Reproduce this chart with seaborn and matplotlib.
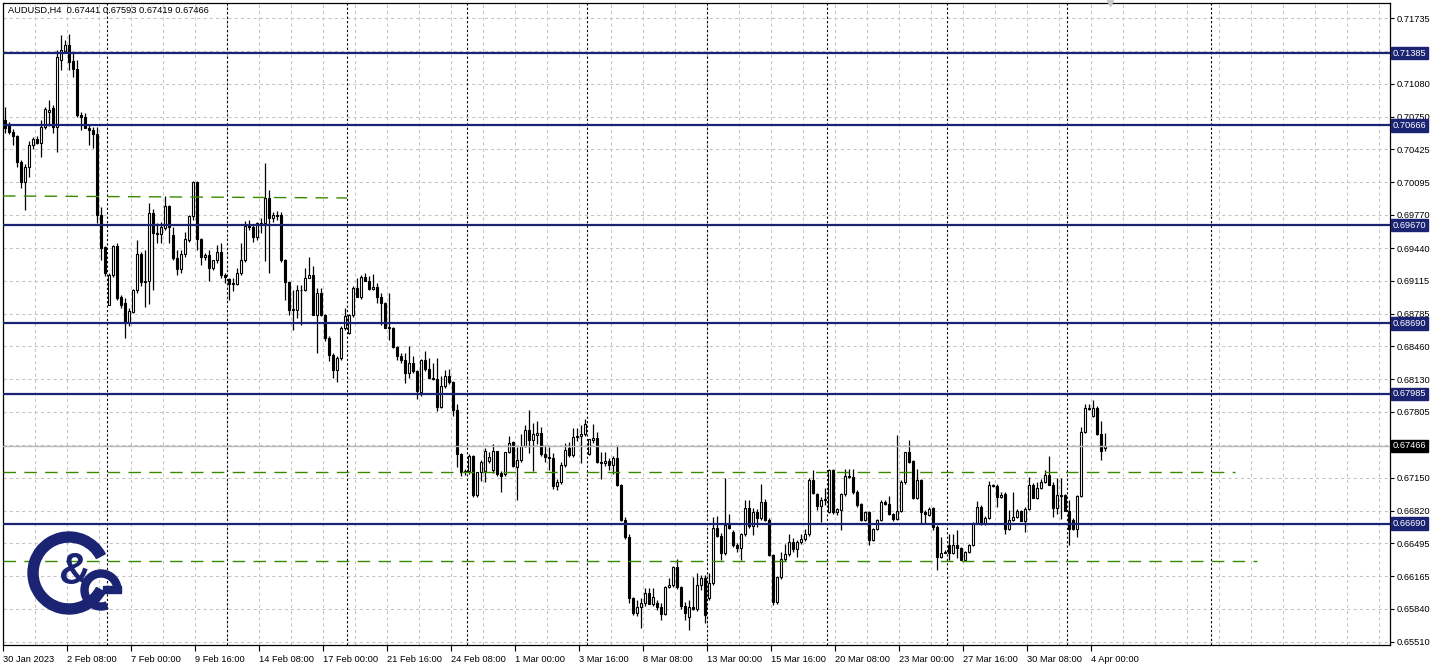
import numpy as np
import matplotlib
matplotlib.use("Agg")
import matplotlib.pyplot as plt
import matplotlib.transforms as mtransforms
from matplotlib.patches import Wedge, Rectangle
import seaborn as sns

sns.set_theme(style="white")
plt.rcParams["font.family"] = ["Liberation Sans", "DejaVu Sans"]

# AUDUSD H4 candles, one value per bar (bar 0 = 30 Jan 16:00)
opens = [
    .7072, .7068, .7060, .7056, .7030, .7010, .7025, .7047, .7053, .7049,
    .7065, .7080, .7084, .7065, .7132, .7141, .7147, .7131, .7123, .7077,
    .7075, .7064, .7062, .7058, .6977, .6945, .6887, .6917, .6946, .6895,
    .6889, .6869, .6880, .6902, .6938, .6910, .6911, .6979, .6959, .6958,
    .6964, .6986, .6957, .6934, .6923, .6938, .6952, .6976, .7010, .6953,
    .6935, .6937, .6924, .6932, .6940, .6917, .6913, .6909, .6908, .6919,
    .6932, .6967, .6965, .6955, .6968, .6969, .6994, .6974, .6977, .6977,
    .6932, .6910, .6882, .6882, .6902, .6902, .6914, .6917, .6877, .6899,
    .6877, .6854, .6837, .6822, .6834, .6864, .6859, .6877, .6904, .6895,
    .6915, .6911, .6903, .6905, .6895, .6889, .6864, .6864, .6845, .6836,
    .6832, .6819, .6829, .6821, .6800, .6832, .6823, .6814, .6813, .6785,
    .6806, .6816, .6810, .6782, .6739, .6721, .6722, .6737, .6698, .6721,
    .6722, .6732, .6723, .6742, .6720, .6719, .6741, .6751, .6726, .6733,
    .6747, .6762, .6753, .6758, .6760, .6739, .6736, .6735, .6707, .6711,
    .6728, .6745, .6738, .6756, .6757, .6759, .6739, .6753, .6755, .6731,
    .6730, .6732, .6728, .6735, .6708, .6673, .6656, .6595, .6580, .6586,
    .6590, .6600, .6589, .6590, .6586, .6579, .6606, .6608, .6626, .6606,
    .6587, .6576, .6586, .6584, .6608, .6615, .6595, .6610, .6665, .6657,
    .6640, .6668, .6661, .6648, .6645, .6659, .6685, .6667, .6681, .6675,
    .6691, .6673, .6638, .6591, .6616, .6634, .6639, .6651, .6644, .6651,
    .6654, .6659, .6713, .6699, .6687, .6693, .6681, .6723, .6681, .6683,
    .6699, .6717, .6716, .6701, .6689, .6673, .6681, .6653, .6664, .6673,
    .6691, .6689, .6679, .6674, .6682, .6711, .6741, .6732, .6695, .6713,
    .6681, .6678, .6685, .6666, .6636, .6640, .6648, .6640, .6648, .6645,
    .6633, .6641, .6648, .6670, .6686, .6669, .6675, .6708, .6707, .6696,
    .6699, .6664, .6673, .6676, .6682, .6672, .6684, .6708, .6695, .6705,
    .6711, .6718, .6708, .6685, .6698, .6698, .6682, .6673, .6664, .6697,
    .6761, .6784, .6776, .6784, .6759, .67441,
]
highs = [
    .7085, .7070, .7063, .7057, .7032, .7028, .7051, .7055, .7056, .7072,
    .7085, .7092, .7087, .7142, .7157, .7152, .7158, .7140, .7132, .7080,
    .7079, .7067, .7065, .7065, .6985, .6946, .6919, .6947, .6949, .6897,
    .6894, .6884, .6903, .6952, .6940, .6942, .6989, .6983, .6969, .6970,
    .6996, .6987, .6965, .6942, .6942, .6960, .6977, .7011, .7011, .6954,
    .6939, .6942, .6930, .6947, .6949, .6919, .6914, .6914, .6924, .6949,
    .6971, .6972, .6968, .6970, .6974, .7029, .7002, .6980, .6981, .6980,
    .6933, .6911, .6902, .6907, .6907, .6924, .6935, .6926, .6904, .6904,
    .6878, .6856, .6839, .6836, .6866, .6884, .6878, .6906, .6914, .6917,
    .6919, .6916, .6918, .6909, .6899, .6890, .6899, .6865, .6846, .6839,
    .6839, .6846, .6836, .6822, .6833, .6841, .6834, .6829, .6834, .6816,
    .6822, .6823, .6811, .6788, .6740, .6724, .6739, .6738, .6721, .6733,
    .6745, .6741, .6749, .6742, .6722, .6741, .6757, .6752, .6746, .6759,
    .6767, .6782, .6769, .6771, .6765, .6748, .6746, .6740, .6714, .6731,
    .6750, .6751, .6764, .6764, .6767, .6773, .6754, .6768, .6761, .6741,
    .6741, .6735, .6737, .6747, .6709, .6676, .6659, .6596, .6593, .6595,
    .6605, .6605, .6605, .6593, .6590, .6607, .6615, .6627, .6634, .6607,
    .6591, .6593, .6616, .6620, .6618, .6618, .6620, .6676, .6677, .6660,
    .6715, .6679, .6663, .6650, .6660, .6693, .6693, .6685, .6684, .6709,
    .6694, .6675, .6639, .6617, .6641, .6649, .6659, .6655, .6653, .6659,
    .6664, .6715, .6723, .6700, .6696, .6705, .6724, .6724, .6685, .6700,
    .6724, .6724, .6724, .6703, .6690, .6682, .6682, .6665, .6674, .6693,
    .6693, .6697, .6680, .6758, .6713, .6741, .6753, .6733, .6724, .6714,
    .6683, .6686, .6686, .6668, .6656, .6643, .6659, .6659, .6663, .6646,
    .6642, .6649, .6671, .6692, .6688, .6677, .6712, .6709, .6709, .6701,
    .6701, .6683, .6701, .6684, .6683, .6686, .6716, .6710, .6711, .6714,
    .6723, .6737, .6711, .6715, .6715, .6699, .6693, .6675, .6698, .6765,
    .6788, .6788, .6792, .6786, .6771, .67593,
]
lows = [
    .7059, .7058, .7047, .7025, .7004, .6982, .7015, .7043, .7048, .7035,
    .7063, .7066, .7059, .7040, .7122, .7140, .7122, .7115, .7075, .7062,
    .7064, .7047, .7044, .6969, .6932, .6916, .6887, .6915, .6892, .6884,
    .6854, .6866, .6879, .6899, .6906, .6885, .6888, .6902, .6949, .6949,
    .6962, .6949, .6932, .6917, .6919, .6935, .6950, .6972, .6942, .6927,
    .6932, .6911, .6922, .6929, .6914, .6909, .6892, .6901, .6907, .6917,
    .6930, .6962, .6950, .6952, .6959, .6931, .6919, .6970, .6972, .6930,
    .6892, .6877, .6862, .6874, .6867, .6901, .6914, .6877, .6839, .6876,
    .6851, .6831, .6814, .6810, .6832, .6862, .6858, .6875, .6895, .6893,
    .6911, .6902, .6902, .6889, .6867, .6864, .6852, .6844, .6832, .6829,
    .6809, .6814, .6819, .6793, .6796, .6821, .6814, .6812, .6781, .6784,
    .6804, .6808, .6776, .6726, .6717, .6718, .6719, .6696, .6696, .6712,
    .6711, .6730, .6720, .6717, .6701, .6717, .6740, .6726, .6693, .6731,
    .6746, .6740, .6722, .6749, .6737, .6731, .6723, .6704, .6703, .6709,
    .6726, .6736, .6736, .6752, .6730, .6757, .6738, .6750, .6730, .6714,
    .6727, .6723, .6719, .6707, .6672, .6654, .6590, .6578, .6577, .6565,
    .6587, .6589, .6587, .6583, .6573, .6578, .6605, .6606, .6604, .6584,
    .6573, .6563, .6583, .6582, .6603, .6570, .6593, .6608, .6656, .6633,
    .6638, .6664, .6646, .6641, .6633, .6657, .6665, .6658, .6666, .6673,
    .6672, .6637, .6588, .6589, .6614, .6632, .6637, .6641, .6636, .6649,
    .6652, .6657, .6699, .6683, .6671, .6688, .6680, .6679, .6678, .6663,
    .6697, .6715, .6699, .6686, .6672, .6672, .6648, .6652, .6663, .6672,
    .6688, .6678, .6672, .6673, .6681, .6709, .6730, .6694, .6694, .6670,
    .6670, .6677, .6663, .6623, .6635, .6640, .6633, .6639, .6635, .6633,
    .6632, .6640, .6647, .6669, .6668, .6668, .6674, .6706, .6686, .6695,
    .6659, .6663, .6672, .6675, .6672, .6661, .6683, .6695, .6694, .6704,
    .6710, .6708, .6676, .6679, .6674, .6682, .6648, .6663, .6656, .6696,
    .6760, .6782, .6775, .6758, .6733, .67419,
]
closes = [
    .7064, .7060, .7056, .7030, .7010, .7025, .7047, .7053, .7049, .7065,
    .7083, .7082, .7065, .7135, .7142, .7147, .7130, .7123, .7077, .7075,
    .7064, .7062, .7058, .6977, .6944, .6919, .6917, .6946, .6894, .6887,
    .6869, .6881, .6902, .6938, .6910, .6911, .6979, .6959, .6958, .6965,
    .6986, .6965, .6934, .6923, .6938, .6953, .6976, .7010, .6953, .6935,
    .6937, .6924, .6932, .6940, .6917, .6915, .6908, .6908, .6919, .6932,
    .6966, .6965, .6955, .6969, .6969, .6994, .6974, .6977, .6976, .6932,
    .6910, .6882, .6883, .6902, .6902, .6914, .6917, .6877, .6899, .6877,
    .6854, .6837, .6822, .6834, .6864, .6876, .6877, .6904, .6895, .6915,
    .6911, .6903, .6905, .6895, .6889, .6864, .6865, .6845, .6836, .6832,
    .6819, .6829, .6821, .6801, .6832, .6823, .6814, .6813, .6785, .6806,
    .6816, .6810, .6782, .6739, .6721, .6722, .6737, .6698, .6721, .6731,
    .6742, .6736, .6742, .6719, .6717, .6741, .6750, .6727, .6733, .6747,
    .6762, .6753, .6759, .6760, .6739, .6736, .6735, .6707, .6711, .6728,
    .6743, .6738, .6756, .6757, .6759, .6768, .6754, .6755, .6731, .6730,
    .6732, .6728, .6735, .6708, .6673, .6656, .6595, .6580, .6586, .6590,
    .6600, .6589, .6596, .6586, .6579, .6606, .6608, .6626, .6606, .6587,
    .6580, .6586, .6584, .6608, .6615, .6578, .6610, .6665, .6657, .6640,
    .6668, .6665, .6648, .6645, .6659, .6685, .6667, .6681, .6675, .6691,
    .6673, .6638, .6591, .6616, .6634, .6639, .6651, .6644, .6651, .6654,
    .6659, .6713, .6700, .6687, .6693, .6694, .6723, .6681, .6684, .6699,
    .6717, .6716, .6701, .6688, .6673, .6681, .6653, .6664, .6673, .6691,
    .6689, .6679, .6674, .6682, .6711, .6741, .6731, .6695, .6713, .6681,
    .6679, .6684, .6666, .6636, .6640, .6641, .6640, .6648, .6645, .6633,
    .6641, .6648, .6670, .6686, .6669, .6675, .6708, .6707, .6696, .6698,
    .6664, .6673, .6676, .6682, .6672, .6684, .6708, .6695, .6705, .6711,
    .6718, .6708, .6685, .6698, .6697, .6682, .6664, .6664, .6697, .6761,
    .6784, .6783, .6784, .6759, .6742, .67466,
]

# horizontal support / resistance levels (navy) and current price
levels = [0.71385, 0.70666, 0.69670, 0.68690, 0.67985, 0.66690]
last_price = 0.67466
# green dashed trend lines: (start bar, start price, end bar, end price)
trend_lines = [
    (-0.5, 0.69960, 85.5, 0.69940),
    (-0.5, 0.67206, 307.5, 0.67206),
    (-0.5, 0.66318, 313.0, 0.66318),
]

# price axis labels
ytick_vals = [0.71735, 0.71410, 0.71080, 0.70750, 0.70425, 0.70095, 0.69770,
              0.69440, 0.69115, 0.68785, 0.68460, 0.68130, 0.67805, 0.67475,
              0.67150, 0.66820, 0.66495, 0.66165, 0.65840, 0.65510]
hidden_ytick = [0.71410, 0.67475]

# time axis labels, one every 16 bars
xtick_labels = ["30 Jan 2023", "2 Feb 08:00", "7 Feb 00:00", "9 Feb 16:00",
                "14 Feb 08:00", "17 Feb 00:00", "21 Feb 16:00", "24 Feb 08:00",
                "1 Mar 00:00", "3 Mar 16:00", "8 Mar 08:00", "13 Mar 00:00",
                "15 Mar 16:00", "20 Mar 08:00", "23 Mar 00:00", "27 Mar 16:00",
                "30 Mar 08:00", "4 Apr 00:00"]
# weekly period separators (bar positions)
separators = [25.5, 55.5, 85.5, 115.5, 145.5, 175.5, 205.5, 235.5, 265.5, 301.5]

header = "AUDUSD,H4  0.67441 0.67593 0.67419 0.67466"

NAVY = "#1b2373"
GRID = "#c4c4c4"
GREEN = "#3a8a00"

W, H = 1438, 668
fig = plt.figure(figsize=(W / 100, H / 100), dpi=100)
fig.patch.set_facecolor("white")
ax = fig.add_axes([3 / W, 23 / H, 1387 / W, 642 / H])
ax.set_facecolor("white")

o = np.array(opens)
h = np.array(highs)
l = np.array(lows)
c = np.array(closes)
x = np.arange(len(o))

ax.set_xlim(-0.5, 346.25)
ax.set_ylim(0.65480, 0.71885)

# grid
ax.set_xticks([16 * k - 0.5 for k in range(len(xtick_labels))])
ax.set_xticks([8 * k - 0.5 for k in range(1, 44)], minor=True)
ax.set_xticklabels(xtick_labels, ha="left", fontsize=6.7)
ax.yaxis.tick_right()
ax.set_yticks(ytick_vals)
ax.set_yticklabels(["" if v in hidden_ytick else f"{v:.5f}" for v in ytick_vals],
                   fontsize=6.7)
ax.tick_params(axis="x", which="major", direction="out", length=4, width=0.8,
               color="black", pad=3, labelcolor="black", bottom=True)
ax.tick_params(axis="x", which="minor", length=0)
ax.tick_params(axis="y", direction="out", length=3, width=0.8, color="black",
               pad=2, labelcolor="black", right=True)
ax.grid(True, which="both", axis="x", color=GRID, linestyle=(0, (3, 3)), linewidth=0.75)
ax.grid(True, which="major", axis="y", color=GRID, linestyle=(0, (3, 3)), linewidth=0.75)
ax.set_axisbelow(True)
for s in ax.spines.values():
    s.set_color("black")
    s.set_linewidth(0.9)

# weekly separators
for sx in separators:
    ax.axvline(sx, color="black", linestyle=(0, (2, 2)), linewidth=0.8, zorder=1)

# candles
up = c >= o
ax.vlines(x, l, h, color="black", linewidth=0.9, zorder=2)
body_low = np.minimum(o, c)
body_h = np.maximum(np.abs(c - o), 0.00004)
ax.bar(x, body_h, bottom=body_low, width=0.62,
       color=np.where(up, "white", "black"), edgecolor="black",
       linewidth=0.8, zorder=3)

# levels
trans = mtransforms.blended_transform_factory(ax.transAxes, ax.transData)
ax.axhline(last_price, color="#b8b8b8", linewidth=1.0, zorder=4)
for lv in levels:
    ax.axhline(lv, color=NAVY, linewidth=1.6, zorder=5)
    ax.text(1.0 + 3 / 1387, lv, f"{lv:.5f}", transform=trans, ha="left", va="center",
            fontsize=6.7, color="white", clip_on=False, zorder=6,
            bbox=dict(boxstyle="square,pad=0.2", fc=NAVY, ec=NAVY))
ax.text(1.0 + 3 / 1387, last_price, f"{last_price:.5f}", transform=trans, ha="left",
        va="center", fontsize=6.7, color="white", clip_on=False, zorder=6,
        bbox=dict(boxstyle="square,pad=0.2", fc="black", ec="black"))

for x0, y0, x1, y1 in trend_lines:
    ax.plot([x0, x1], [y0, y1], color=GREEN, linewidth=1.0,
            linestyle=(0, (9, 6)), zorder=5)

# chart shift marker
ax.plot([276.3], [0.71885], marker="v", markersize=5, color="#c8c8c8",
        clip_on=False, zorder=6)

fig.text(8 / W, 1 - 10 / H, header, fontsize=6.7, va="center", ha="left", color="black")

# logo (C & G mark)
lax = fig.add_axes([25 / W, (H - 620) / H, 100 / W, 92 / H])
lax.set_xlim(0, 100)
lax.set_ylim(0, 92)
lax.axis("off")
lax.add_patch(Wedge((44, 47), 41, 28, 332, width=10, color=NAVY))
lax.add_patch(Wedge((76, 30), 20, 0, 290, width=7, color=NAVY))
lax.add_patch(Rectangle((78, 27), 18, 7, color=NAVY))
lax.text(50, 47, "&", fontsize=32, fontweight="bold", color=NAVY,
         ha="center", va="center")

fig.savefig("out.png", dpi=100)
